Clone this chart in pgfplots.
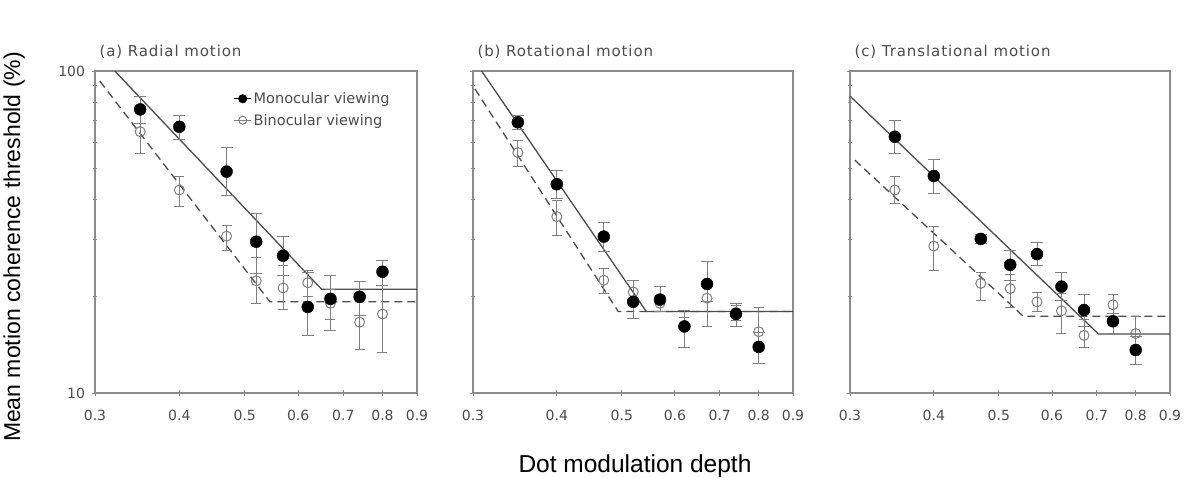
\documentclass[border=0pt]{standalone}
\usepackage{fontspec}
\setmainfont{DejaVu Sans}
\newfontfamily\arialfont{Liberation Sans}
\newfontfamily\ttlfont[LetterSpace=6]{DejaVu Sans}
\usepackage{pgfplots}
\usepackage{pgfplotstable}
\pgfplotsset{compat=1.18}
\definecolor{axisgray}{gray}{0.55}
\definecolor{fitgray}{gray}{0.3}
\definecolor{opengray}{gray}{0.5}
\definecolor{txtgray}{gray}{0.3}

% x y ep em  (error bars in data units)
\pgfplotstableread{
x y ep em
0.35 76.0 7.5 7.0
0.40 67.1 5.9 5.5
0.47 48.7 9.3 7.7
0.52 29.5 6.8 6.0
0.57 26.7 3.9 3.5
0.62 18.5 5.3 3.4
0.67 19.6 3.6 3.9
0.74 19.9 2.3 2.4
0.80 23.8 2.1 2.2
}\monoA
\pgfplotstableread{
x y ep em
0.35 64.8 12.7 9.3
0.40 42.7 4.3 4.6
0.47 30.7 2.5 2.9
0.52 22.3 4.2 3.3
0.57 21.2 3.8 3.0
0.62 22.0 2.0 2.0
0.67 19.0 2.0 2.0
0.74 16.6 5.6 2.9
0.80 17.6 8.3 4.2
}\binoA
\pgfplotstableread{
x y ep em
0.35 69.3 3.7 3.5
0.40 44.5 4.8 4.3
0.47 30.6 3.3 3.0
0.52 19.2 3.2 2.1
0.57 19.5 1.9 1.6
0.62 16.1 2.0 2.2
0.67 21.8 3.8 2.5
0.74 17.6 1.4 1.5
0.80 13.9 1.5 1.5
}\monoB
\pgfplotstableread{
x y ep em
0.35 55.8 5.2 5.1
0.40 35.3 4.4 4.4
0.47 22.4 2.0 2.0
0.52 20.6 1.8 1.6
0.57 19.0 1.0 1.0
0.62 16.0 1.2 2.1
0.67 19.7 5.9 3.6
0.74 17.8 1.0 1.0
0.80 15.5 3.0 3.1
}\binoB
\pgfplotstableread{
x y ep em
0.35 62.5 7.9 7.0
0.40 47.2 6.0 5.5
0.47 30.1 1.0 1.0
0.52 25.0 2.8 2.6
0.57 27.0 2.3 2.0
0.62 21.4 2.4 2.0
0.67 18.1 2.2 2.0
0.74 16.7 1.0 1.4
0.80 13.6 1.4 1.3
}\monoC
\pgfplotstableread{
x y ep em
0.35 42.7 4.3 3.9
0.40 28.6 4.3 4.5
0.47 21.9 1.9 2.5
0.52 21.1 2.3 2.6
0.57 19.2 1.4 1.3
0.62 18.0 2.4 2.7
0.67 15.1 1.8 1.2
0.74 18.8 1.5 1.5
0.80 15.3 2.0 1.4
}\binoC

\begin{document}
\begin{tikzpicture}
\useasboundingbox (0pt,0pt) rectangle (1188pt,477pt);

% (a) Radial motion
\begin{axis}[scale only axis, height=322pt, width=322pt, anchor=south west, at={(95pt,84pt)},
    xmode=log, ymode=log,
    xmin=0.3, xmax=0.9, ymin=10, ymax=100,
    xtick={0.3,0.4,0.5,0.6,0.7,0.8,0.9},
    xticklabels={0.3,0.4,0.5,0.6,0.7,0.8,0.9},
    ytick={10,100}, yticklabels={10,100},
    xminorticks=false,
    axis line style={axisgray, line width=1.3pt},
    tick style={axisgray, line width=0.8pt},
    tick pos=left, tick align=center,
    major tick length=7pt, minor tick length=5pt,
    ticklabel style={font=\fontsize{14}{14}\selectfont, text=txtgray},
    xticklabel style={yshift=-10pt},
    yticklabel style={xshift=-3pt},
    clip=false,
  legend style={at={(0.43,0.94)}, anchor=north west, draw=none, fill=none,
    font=\fontsize{14.5}{14.5}\selectfont, text=txtgray, row sep=5pt,
    inner sep=0pt},
  legend cell align=left]
  \addlegendimage{black, line width=1pt, mark=*, mark size=4pt}
  \addlegendentry{Monocular viewing}
  \addlegendimage{opengray, line width=1pt, mark=o, mark size=4pt}
  \addlegendentry{Binocular viewing}
  \addplot[fitgray, line width=1.3pt, no marks, forget plot]
    coordinates {(0.321,100) (0.65,21.0) (0.9,21.0)};
  \addplot[fitgray, line width=1.3pt, no marks, forget plot, dash pattern=on 8pt off 5pt]
    coordinates {(0.305,93) (0.545,19.2) (0.9,19.2)};
  \addplot[only marks, forget plot, mark=o, mark size=5pt, mark options={draw=opengray, line width=1pt},
    error bars/.cd, y dir=both, y explicit,
    error bar style={opengray, line width=0.8pt}]
    table[x=x, y=y, y error plus=ep, y error minus=em] {\binoA};
  \addplot[only marks, forget plot, mark=*, mark size=6pt, mark options={draw=black, fill=black},
    error bars/.cd, y dir=both, y explicit,
    error bar style={opengray, line width=0.8pt}]
    table[x=x, y=y, y error plus=ep, y error minus=em] {\monoA};
  \node[anchor=base west, text=txtgray, font=\ttlfont\fontsize{15}{15}\selectfont, xshift=1pt, yshift=14pt] at (rel axis cs:0,1) {(a) Radial motion};
\end{axis}

% (b) Rotational motion
\begin{axis}[scale only axis, height=322pt, width=320pt, anchor=south west, at={(473pt,84pt)},
    xmode=log, ymode=log,
    xmin=0.3, xmax=0.9, ymin=10, ymax=100,
    xtick={0.3,0.4,0.5,0.6,0.7,0.8,0.9},
    xticklabels={0.3,0.4,0.5,0.6,0.7,0.8,0.9},
    ytick={10,100}, yticklabels={},
    xminorticks=false,
    axis line style={axisgray, line width=1.3pt},
    tick style={axisgray, line width=0.8pt},
    tick pos=left, tick align=center,
    major tick length=7pt, minor tick length=5pt,
    ticklabel style={font=\fontsize{14}{14}\selectfont, text=txtgray},
    xticklabel style={yshift=-10pt},
    clip=false]
  \addplot[fitgray, line width=1.3pt, no marks, forget plot]
    coordinates {(0.309,100) (0.544,17.9) (0.9,17.9)};
  \addplot[fitgray, line width=1.3pt, no marks, forget plot, dash pattern=on 8pt off 5pt]
    coordinates {(0.302,88) (0.494,17.9) (0.9,17.9)};
  \addplot[only marks, forget plot, mark=o, mark size=5pt, mark options={draw=opengray, line width=1pt},
    error bars/.cd, y dir=both, y explicit,
    error bar style={opengray, line width=0.8pt}]
    table[x=x, y=y, y error plus=ep, y error minus=em] {\binoB};
  \addplot[only marks, forget plot, mark=*, mark size=6pt, mark options={draw=black, fill=black},
    error bars/.cd, y dir=both, y explicit,
    error bar style={opengray, line width=0.8pt}]
    table[x=x, y=y, y error plus=ep, y error minus=em] {\monoB};
  \node[anchor=base west, text=txtgray, font=\ttlfont\fontsize{15}{15}\selectfont, xshift=1pt, yshift=14pt] at (rel axis cs:0,1) {(b) Rotational motion};
\end{axis}

% (c) Translational motion
\begin{axis}[scale only axis, height=322pt, width=320pt, anchor=south west, at={(850pt,84pt)},
    xmode=log, ymode=log,
    xmin=0.3, xmax=0.9, ymin=10, ymax=100,
    xtick={0.3,0.4,0.5,0.6,0.7,0.8,0.9},
    xticklabels={0.3,0.4,0.5,0.6,0.7,0.8,0.9},
    ytick={10,100}, yticklabels={},
    xminorticks=false,
    axis line style={axisgray, line width=1.3pt},
    tick style={axisgray, line width=0.8pt},
    tick pos=left, tick align=center,
    major tick length=7pt, minor tick length=5pt,
    ticklabel style={font=\fontsize{14}{14}\selectfont, text=txtgray},
    xticklabel style={yshift=-10pt},
    clip=false]
  \addplot[fitgray, line width=1.3pt, no marks, forget plot]
    coordinates {(0.3,83.6) (0.704,15.25) (0.9,15.25)};
  \addplot[fitgray, line width=1.3pt, no marks, forget plot, dash pattern=on 8pt off 5pt]
    coordinates {(0.305,52.9) (0.544,17.3) (0.9,17.3)};
  \addplot[only marks, forget plot, mark=o, mark size=5pt, mark options={draw=opengray, line width=1pt},
    error bars/.cd, y dir=both, y explicit,
    error bar style={opengray, line width=0.8pt}]
    table[x=x, y=y, y error plus=ep, y error minus=em] {\binoC};
  \addplot[only marks, forget plot, mark=*, mark size=6pt, mark options={draw=black, fill=black},
    error bars/.cd, y dir=both, y explicit,
    error bar style={opengray, line width=0.8pt}]
    table[x=x, y=y, y error plus=ep, y error minus=em] {\monoC};
  \node[anchor=base west, text=txtgray, font=\ttlfont\fontsize{15}{15}\selectfont, xshift=1pt, yshift=14pt] at (rel axis cs:0,1) {(c) Translational motion};
\end{axis}

% shared axis labels
\node[anchor=base, rotate=90, font=\arialfont\fontsize{23}{23}\selectfont]
  at (20pt,230pt) {Mean motion coherence threshold (\%)};
\node[anchor=base, font=\arialfont\fontsize{24.5}{24.5}\selectfont]
  at (635pt,5pt) {Dot modulation depth};
\end{tikzpicture}
\end{document}
